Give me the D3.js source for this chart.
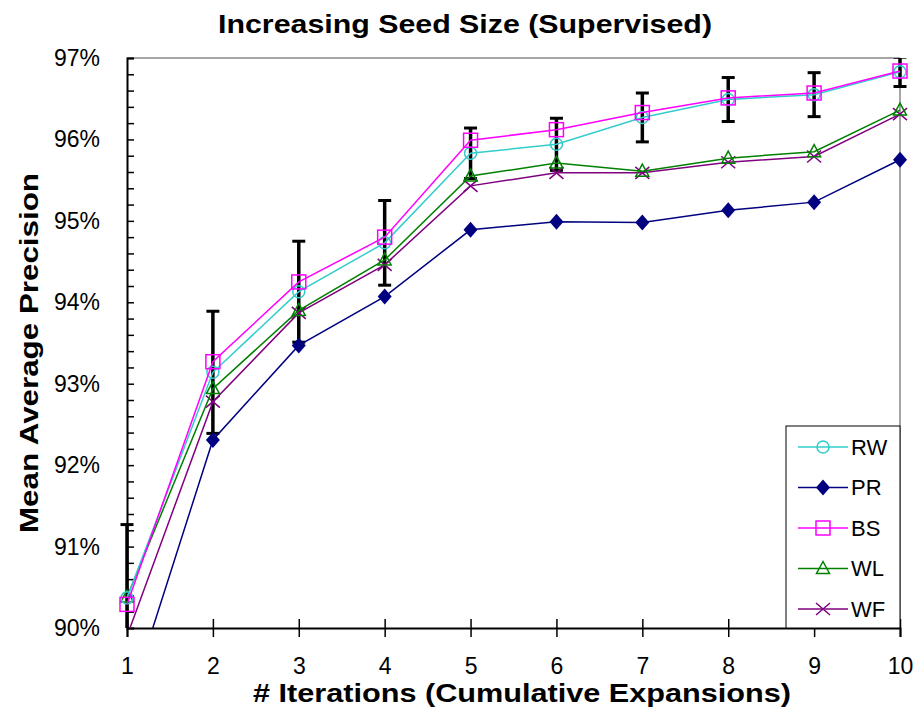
<!DOCTYPE html>
<html lang="en">
<head>
<meta charset="UTF-8">
<title>Increasing Seed Size (Supervised)</title>
<script src="https://cdn.jsdelivr.net/npm/d3@7"></script>
<style>
    body { margin: 0; background: #fff; }
    text { font-family: "Liberation Sans", Arial, sans-serif; fill: #000; }
    .title { font-size: 25px; font-weight: bold; }
    .axlabel { font-size: 26px; font-weight: bold; }
</style>
</head>
<body>
<svg id="main" width="917" height="713"></svg>
<script>

    // values (percent)
    var iterations = [1, 2, 3, 4, 5, 6, 7, 8, 9, 10];
    var seriesNames = ["RW", "PR", "BS", "WL", "WF"];
    var rw = [90.37, 93.14, 94.13, 94.73, 95.83, 95.94, 96.27, 96.49, 96.55, 96.83];
    var pr = [89.01, 92.31, 93.47, 94.07, 94.89, 94.99, 94.98, 95.13, 95.23, 95.75];
    var bs = [90.29, 93.27, 94.25, 94.80, 95.99, 96.12, 96.33, 96.51, 96.57, 96.84];
    var wl = [90.38, 92.94, 93.90, 94.52, 95.55, 95.71, 95.61, 95.77, 95.85, 96.36];
    var wf = [89.90, 92.78, 93.87, 94.46, 95.43, 95.59, 95.59, 95.72, 95.79, 96.31];
    // error bars drawn around RW
    var rwErr = [0.90, 0.75, 0.62, 0.52, 0.31, 0.32, 0.30, 0.27, 0.27, 0.18];
    var yTicks = [90, 91, 92, 93, 94, 95, 96, 97];

    var colors = {RW: "#33cccc", PR: "#000080", BS: "#ff00ff", WL: "#008000", WF: "#800080"};
    var values = {RW: rw, PR: pr, BS: bs, WL: wl, WF: wf};

    var svg = d3.select("#main"),
        margin = {top: 58, right: 17, bottom: 85, left: 127},
        width = 917 - margin.left - margin.right,
        height = 713 - margin.top - margin.bottom,
        g = svg.append("g").attr("transform", "translate(" + margin.left + "," + margin.top + ")");

    var x = d3.scaleLinear().domain([1, 10]).range([0, width]);
    var y = d3.scaleLinear().domain([90, 97]).range([height, 0]);

    svg.append("defs").append("clipPath").attr("id", "plotclip")
        .append("rect").attr("x", -10).attr("y", 0).attr("width", width + 20).attr("height", height);

    // gray frame top / right
    g.append("line").attr("x1", 0).attr("x2", width).attr("y1", 0).attr("y2", 0)
        .attr("stroke", "#888").attr("stroke-width", 1.5);
    g.append("line").attr("x1", width).attr("x2", width).attr("y1", 0).attr("y2", height)
        .attr("stroke", "#888").attr("stroke-width", 1.5);

    // y axis: inward minor ticks every 0.2
    var yAxis = g.append("g").attr("class", "axis axis--y")
        .call(d3.axisRight(y).tickValues(d3.range(0, 36).map(function(i) { return 90 + i * 0.2; }))
            .tickSize(7).tickFormat(""));
    yAxis.select(".domain").attr("stroke-width", 2);
    yAxis.selectAll(".tick line").attr("stroke-width", 1.5);

    g.selectAll(".ylab").data(yTicks).enter().append("text")
        .attr("class", "ylab")
        .attr("x", -27).attr("y", function(d) { return y(d); })
        .attr("dy", "0.35em").attr("text-anchor", "end")
        .style("font-size", "23px")
        .text(function(d) { return d + "%"; });

    // x axis: crossing ticks
    var xAxis = g.append("g").attr("class", "axis axis--x")
        .attr("transform", "translate(0," + height + ")")
        .call(d3.axisBottom(x).tickValues(iterations).tickSize(9).tickPadding(21).tickFormat(d3.format("d")));
    xAxis.select(".domain").attr("stroke-width", 2);
    xAxis.selectAll(".tick line").attr("y1", -9).attr("stroke-width", 1.5);
    xAxis.selectAll(".tick text").style("font-size", "23px")
        .style("font-family", "'Liberation Sans', Arial, sans-serif").attr("fill", "#000");

    var plot = g.append("g").attr("clip-path", "url(#plotclip)");

    // error bars
    var eb = plot.selectAll(".err").data(iterations).enter().append("g").attr("class", "err");
    eb.append("line")
        .attr("x1", function(d) { return x(d); }).attr("x2", function(d) { return x(d); })
        .attr("y1", function(d, i) { return y(rw[i] - rwErr[i]); })
        .attr("y2", function(d, i) { return y(rw[i] + rwErr[i]); })
        .attr("stroke", "#000").attr("stroke-width", 3.5);
    [1, -1].forEach(function(s) {
        eb.append("line")
            .attr("x1", function(d) { return x(d) - 6.5; }).attr("x2", function(d) { return x(d) + 6.5; })
            .attr("y1", function(d, i) { return y(rw[i] + s * rwErr[i]); })
            .attr("y2", function(d, i) { return y(rw[i] + s * rwErr[i]); })
            .attr("stroke", "#000").attr("stroke-width", 3);
    });

    var line = d3.line()
        .x(function(d, i) { return x(iterations[i]); })
        .y(function(d) { return y(d); });

    function drawMarker(sel, name) {
        var c = colors[name];
        if (name === "RW") {
            sel.append("circle").attr("r", 6).attr("fill", "none").attr("stroke", c).attr("stroke-width", 1.5);
        } else if (name === "PR") {
            sel.append("path").attr("d", "M0,-8L7,0L0,8L-7,0Z").attr("fill", c);
        } else if (name === "BS") {
            sel.append("rect").attr("x", -7).attr("y", -7).attr("width", 14).attr("height", 14)
                .attr("fill", "none").attr("stroke", c).attr("stroke-width", 1.5);
        } else if (name === "WL") {
            sel.append("path").attr("d", "M0,-7L6.5,5L-6.5,5Z").attr("fill", "none")
                .attr("stroke", c).attr("stroke-width", 1.5);
        } else {
            sel.append("path").attr("d", "M-7,-6L7,6M-7,6L7,-6").attr("stroke", c).attr("stroke-width", 1.5);
        }
    }

    var order = ["PR", "WF", "WL", "RW", "BS"];
    order.forEach(function(name) {
        plot.append("path").datum(values[name])
            .attr("fill", "none").attr("stroke", colors[name]).attr("stroke-width", 1.5)
            .attr("d", line);
        plot.selectAll(".m" + name).data(values[name]).enter().append("g")
            .attr("class", "m" + name)
            .attr("transform", function(d, i) { return "translate(" + x(iterations[i]) + "," + y(d) + ")"; })
            .each(function() { drawMarker(d3.select(this), name); });
    });

    // legend
    var lx = 659, ly = 368, lw = width - lx, lh = height - ly;
    var legend = g.append("g").attr("transform", "translate(" + lx + "," + ly + ")");
    legend.append("rect").attr("width", lw).attr("height", lh)
        .attr("fill", "#fff").attr("stroke", "#000").attr("stroke-width", 1);
    var item = legend.selectAll(".legend").data(seriesNames).enter().append("g")
        .attr("class", "legend")
        .attr("transform", function(d, i) { return "translate(0," + (21 + i * 40.5) + ")"; });
    item.append("line").attr("x1", 12).attr("x2", 62)
        .attr("stroke", function(d) { return colors[d]; }).attr("stroke-width", 1.5);
    item.append("g").attr("transform", "translate(37,0)")
        .each(function(d) { drawMarker(d3.select(this), d); });
    item.append("text").attr("x", 65).attr("dy", "0.36em")
        .style("font-size", "22px")
        .text(function(d) { return d; });

    // titles
    svg.append("text").attr("class", "title")
        .attr("x", 465).attr("y", 33).attr("text-anchor", "middle")
        .attr("textLength", 494).attr("lengthAdjust", "spacingAndGlyphs")
        .text("Increasing Seed Size (Supervised)");
    svg.append("text").attr("class", "axlabel")
        .attr("x", 522).attr("y", 702).attr("text-anchor", "middle")
        .attr("textLength", 538).attr("lengthAdjust", "spacingAndGlyphs")
        .text("# Iterations (Cumulative Expansions)");
    svg.append("text").attr("class", "axlabel")
        .attr("transform", "translate(38,353) rotate(-90)").attr("text-anchor", "middle")
        .attr("textLength", 360).attr("lengthAdjust", "spacingAndGlyphs")
        .text("Mean Average Precision");

</script>
</body>
</html>
